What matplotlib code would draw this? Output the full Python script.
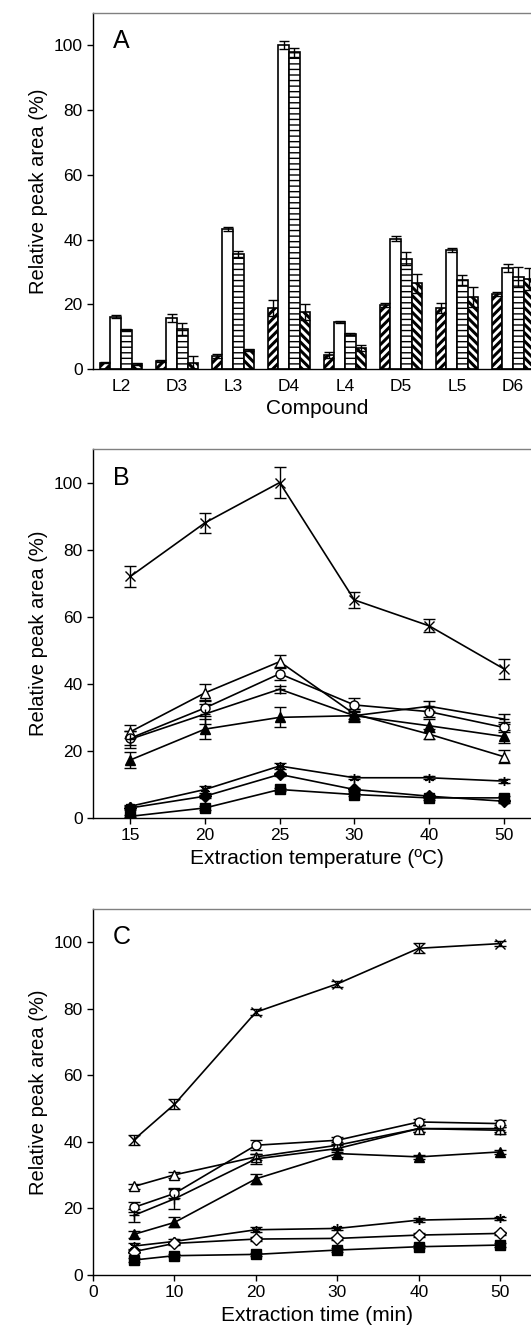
import numpy as np
import matplotlib.pyplot as plt

plt.rcParams['font.family'] = ['Liberation Sans', 'DejaVu Sans']

# Panel A: relative peak area per compound, four extraction conditions
compounds = ['L2', 'D3', 'L3', 'D4', 'L4', 'D5', 'L5', 'D6']
a_fwd = [2.0, 2.5, 4.0, 18.8, 4.3, 19.8, 18.8, 23.2]
a_fwd_err = [0.3, 0.4, 0.5, 2.5, 0.8, 0.5, 1.5, 0.5]
a_open = [16.2, 15.8, 43.3, 100.0, 14.6, 40.3, 36.8, 31.2]
a_open_err = [0.4, 1.2, 0.6, 1.2, 0.3, 0.8, 0.6, 1.2]
a_horiz = [12.0, 12.3, 35.6, 97.8, 10.8, 34.0, 27.5, 28.4]
a_horiz_err = [0.3, 1.9, 1.0, 1.3, 0.4, 2.0, 1.5, 3.0]
a_back = [1.5, 2.0, 6.0, 17.5, 6.5, 26.5, 22.3, 27.8]
a_back_err = [0.3, 2.0, 0.3, 2.5, 1.0, 3.0, 3.0, 3.5]

# Panel B: extraction temperature
temps = ['15', '20', '25', '30', '40', '50']
b_cross = [72, 88, 100, 65, 57.3, 44.5]
b_cross_err = [3, 3, 4.7, 2.5, 2, 3]
b_otri = [25.7, 37.3, 46.6, 31, 25, 18.3]
b_otri_err = [2, 2.5, 2, 1.5, 1.5, 2]
b_ocirc = [23.8, 32.8, 43, 33.7, 31.7, 27]
b_ocirc_err = [2, 2.5, 2, 2, 1.5, 1.5]
b_plus = [23.5, 31, 38.4, 30.5, 33.3, 29.5]
b_plus_err = [2.5, 3, 1, 1.5, 1.5, 1.5]
b_ftri = [17.3, 26.5, 30, 30.5, 27.5, 24.3]
b_ftri_err = [2.5, 3, 3, 2, 2, 2]
b_star = [3.5, 8.5, 15.5, 12, 12, 11]
b_star_err = [0.5, 1, 1, 0.5, 0.5, 0.5]
b_fdia = [3, 6.5, 13, 8.5, 6.5, 5]
b_fdia_err = [0.5, 0.5, 0.5, 0.5, 0.5, 0.5]
b_sq = [0.5, 3, 8.5, 7, 6, 6]
b_sq_err = [0.3, 0.5, 0.5, 0.5, 0.5, 0.5]

# Panel C: extraction time
times = [5, 10, 20, 30, 40, 50]
c_cross = [40.6, 51.3, 79, 87.5, 98.2, 99.6]
c_cross_err = [1.5, 1.5, 1, 0.8, 1.5, 0.8]
c_otri = [26.6, 30.1, 35.5, 39, 44, 44]
c_otri_err = [0.8, 0.8, 1, 1, 1, 1]
c_ocirc = [20.3, 24.5, 39, 40.5, 46, 45.5]
c_ocirc_err = [1.5, 1.5, 1.5, 1, 1, 1]
c_plus = [17.9, 22.9, 34.9, 38, 44, 43.5]
c_plus_err = [2, 3, 1.5, 1, 1, 1]
c_ftri = [12.2, 15.8, 28.9, 36.5, 35.5, 37]
c_ftri_err = [1, 1.5, 1.5, 1, 0.5, 0.5]
c_star = [8.7, 10.1, 13.6, 14, 16.5, 17]
c_star_err = [0.8, 0.8, 0.8, 0.5, 0.5, 0.5]
c_odia = [7, 9.5, 10.8, 11, 12, 12.5]
c_odia_err = [0.5, 0.5, 0.5, 0.5, 0.5, 0.5]
c_sq = [4.5, 5.8, 6.2, 7.5, 8.5, 9]
c_sq_err = [0.5, 0.5, 0.5, 0.5, 0.5, 0.5]

fig = plt.figure(figsize=(5.31, 13.32), dpi=100)
left, width = 93 / 531, 448 / 531
ax_a = fig.add_axes([left, 1 - 369 / 1332, width, 356 / 1332])
ax_b = fig.add_axes([left, 1 - 818 / 1332, width, 369 / 1332])
ax_c = fig.add_axes([left, 1 - 1275 / 1332, width, 366 / 1332])


def style_axes(ax, letter):
    ax.set_ylim(0, 110)
    ax.set_yticks([0, 20, 40, 60, 80, 100])
    ax.set_ylabel('Relative peak area (%)', fontsize=14.5)
    ax.tick_params(direction='out', length=4, width=1, labelsize=12.5)
    for s in ax.spines.values():
        s.set_linewidth(1)
    ax.spines['top'].set_color('0.5')
    ax.text(0.045, 0.955, letter, transform=ax.transAxes, fontsize=18,
            va='top', ha='left')


# ---- A ----
x = np.arange(len(compounds))
bw = 0.19
sets = [(a_fwd, a_fwd_err, '////', 2.2),
        (a_open, a_open_err, '', 1.0),
        (a_horiz, a_horiz_err, '---', 1.0),
        (a_back, a_back_err, '\\\\\\\\', 2.2)]
for i, (vals, errs, hatch, hlw) in enumerate(sets):
    pos = x + (i - 1.5) * bw
    plt.rcParams['hatch.linewidth'] = hlw
    bars = ax_a.bar(pos, vals, bw, color='white', edgecolor='black',
                    linewidth=1.2, hatch=hatch, zorder=2)
    for b in bars:
        if hasattr(b, 'set_hatch_linewidth'):
            b.set_hatch_linewidth(hlw)
    ax_a.errorbar(pos, vals, yerr=errs, fmt='none', ecolor='black',
                  elinewidth=1, capsize=3.5, capthick=1, zorder=3)
ax_a.set_xlim(-0.5, len(compounds) - 0.5)
ax_a.set_xticks(x)
ax_a.set_xticklabels(compounds)
ax_a.set_xlabel('Compound', fontsize=15)
style_axes(ax_a, 'A')
ax_a.tick_params(axis='x', length=0, pad=7)

# ---- B & C line series ----
marker_kw = dict(color='black', linewidth=1.2, elinewidth=1, capsize=4,
                 capthick=1, markersize=6.5, markeredgecolor='black',
                 markeredgewidth=1)


def draw_series(ax, xs, series):
    for vals, errs, mk, fill in series:
        ax.errorbar(xs, vals, yerr=errs, marker=mk,
                    markerfacecolor=fill, **marker_kw)


xb = np.arange(len(temps))
draw_series(ax_b, xb, [
    (b_cross, b_cross_err, 'x', 'black'),
    (b_otri, b_otri_err, '^', 'white'),
    (b_ocirc, b_ocirc_err, 'o', 'white'),
    (b_plus, b_plus_err, '+', 'black'),
    (b_ftri, b_ftri_err, '^', 'black'),
    (b_star, b_star_err, (6, 2, 0), 'black'),
    (b_fdia, b_fdia_err, 'D', 'black'),
    (b_sq, b_sq_err, 's', 'black'),
])
ax_b.set_xlim(-0.5, len(temps) - 0.5)
ax_b.set_xticks(xb)
ax_b.set_xticklabels(temps)
ax_b.set_xlabel('Extraction temperature (ºC)', fontsize=15)
style_axes(ax_b, 'B')

draw_series(ax_c, times, [
    (c_cross, c_cross_err, 'x', 'black'),
    (c_otri, c_otri_err, '^', 'white'),
    (c_ocirc, c_ocirc_err, 'o', 'white'),
    (c_plus, c_plus_err, '+', 'black'),
    (c_ftri, c_ftri_err, '^', 'black'),
    (c_star, c_star_err, (6, 2, 0), 'black'),
    (c_odia, c_odia_err, 'D', 'white'),
    (c_sq, c_sq_err, 's', 'black'),
])
ax_c.set_xlim(0, 55)
ax_c.set_xticks([0, 10, 20, 30, 40, 50])
ax_c.set_xlabel('Extraction time (min)', fontsize=15)
style_axes(ax_c, 'C')

fig.savefig('out.png', dpi=100)
